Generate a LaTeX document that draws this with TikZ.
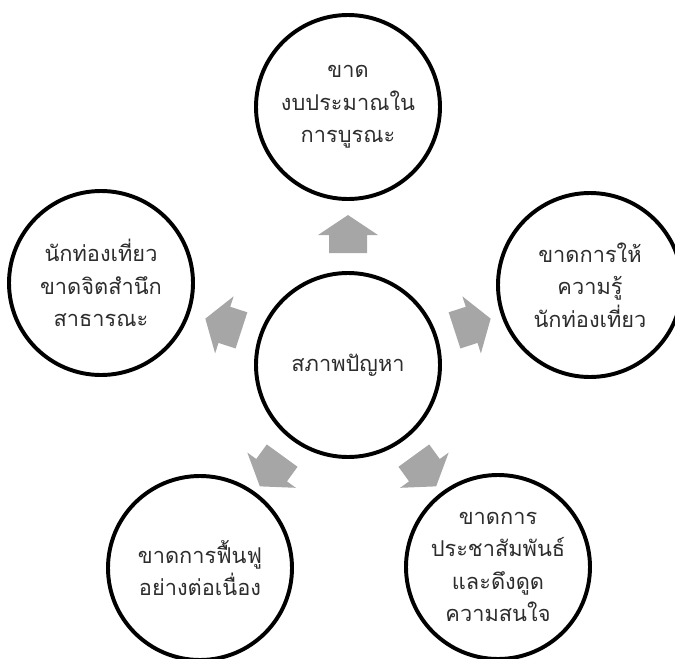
\documentclass[tikz,border=0pt]{standalone}
\usepackage{fontspec}
\usepackage{tikz}
\newfontfamily\thaifont[Script=Thai]{Loma}
\definecolor{arrowgray}{RGB}{166,166,166}
\definecolor{textgray}{RGB}{45,45,45}

\begin{document}
\begin{tikzpicture}[scale=0.25]
\tikzset{bubble/.style={circle, draw=black, line width=2.8pt, minimum size=4.6cm,
  inner sep=0pt, align=center, text=textgray, font=\thaifont\fontsize{15.5}{23}\selectfont}}
\useasboundingbox (0,0) rectangle (67.5,-65.9);
\node [bubble] (mid) at (34.8,-36.5) {สภาพปัญหา};
\node [bubble] (top) at (34.8,-10.7) {ขาด\\งบประมาณใน\\การบูรณะ};
\node [bubble] (right) at (59.0,-28.5) {ขาดการให้\\ความรู้\\นักท่องเที่ยว};
\node [bubble] (left) at (10.1,-28.3) {นักท่องเที่ยว\\ขาดจิตสำนึก\\สาธารณะ};
\node [bubble] (botleft) at (20.0,-56.8) {ขาดการฟื้นฟู\\อย่างต่อเนื่อง};
\node [bubble] (botright) at (49.8,-56.7) {ขาดการ\\ประชาสัมพันธ์\\และดึงดูด\\ความสนใจ};
% block arrows pointing out from the middle
\foreach \a in {90,18,162,234,306}
{
\begin{scope}[shift={(mid)}, rotate=\a]
\fill [arrowgray] (11.2,-1.9) -- (13,-1.9) -- (13,-3) -- (15,0) -- (13,3) -- (13,1.9) -- (11.2,1.9) -- cycle;
\end{scope}
}
\end{tikzpicture}
\end{document}
